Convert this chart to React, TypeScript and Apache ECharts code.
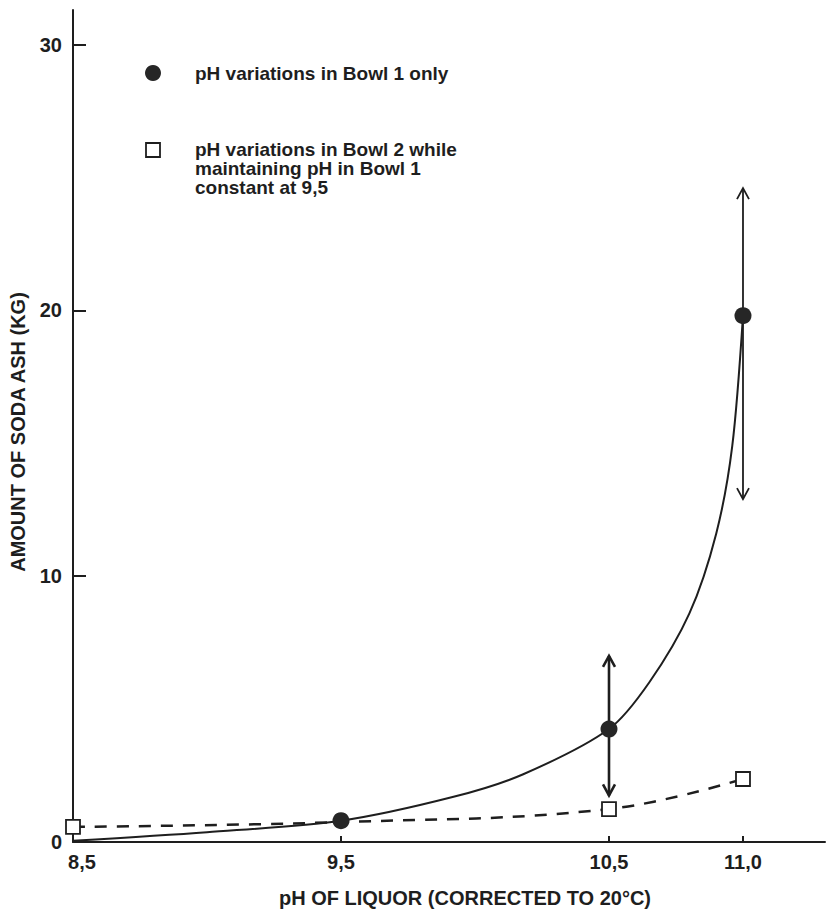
import React, { useEffect, useRef } from "react";
import * as echarts from "echarts";

// Solid curve (Bowl 1): [pH, kg]
const curvePH = [8.5, 9.0, 9.5, 9.92, 10.18, 10.5, 10.65, 10.8, 10.9, 10.96, 11.0];
const curveKg = [0.05, 0.37, 0.8, 1.7, 2.55, 4.25, 6.0, 8.6, 11.6, 14.9, 19.8];

// Filled circles: pH variations in Bowl 1 only
const bowl1PH = [9.5, 10.5, 11.0];
const bowl1Kg = [0.8, 4.25, 19.8];
// Range arrows (low / high) around the Bowl 1 points at 10,5 and 11,0
const rangePH = [10.5, 11.0];
const rangeMid = [4.25, 19.8];
const rangeLow = [1.75, 12.9];
const rangeHigh = [7.0, 24.6];
const rangeWidth = [2.6, 1.8];

// Open squares: pH variations in Bowl 2 (Bowl 1 constant at 9,5)
const bowl2PH = [8.5, 9.5, 10.5, 11.0];
const bowl2Kg = [0.57, 0.75, 1.24, 2.37];
const bowl2Shown = [true, false, true, true];

const xTicks = [8.5, 9.5, 10.5, 11.0];
const yTicks = [0, 10, 20, 30];

const INK = "#1e1e1e";
const FONT = "Liberation Sans, Arial, Helvetica, sans-serif";

export default function App() {
  const ref = useRef<HTMLDivElement>(null);
  useEffect(() => {
    if (!ref.current) return;
    const chart = echarts.init(ref.current, null, { renderer: "svg" });
    const fmtX = (v: number) => v.toFixed(1).replace(".", ",");
    chart.setOption({
      animation: false,
      backgroundColor: "#ffffff",
      grid: { left: 73, right: 10, top: 10, bottom: 72, containLabel: false },
      xAxis: {
        type: "value",
        min: 8.5,
        max: 11.306,
        axisLine: { show: true, onZero: false, lineStyle: { color: INK, width: 2 } },
        axisTick: { show: true, inside: true, length: 6, lineStyle: { color: INK, width: 2 }, customValues: xTicks },
        splitLine: { show: false },
        axisLabel: {
          customValues: xTicks,
          margin: 10,
          color: INK,
          fontSize: 20,
          fontWeight: "bold",
          fontFamily: FONT,
          formatter: (v: number) => (v === 8.5 ? "{m|" + fmtX(v) + "}" : fmtX(v)),
          rich: { m: { padding: [0, 0, 0, 18], fontSize: 20, fontWeight: "bold", fontFamily: FONT, color: INK } },
        },
      },
      yAxis: {
        type: "value",
        min: 0,
        max: 31.3,
        axisLine: { show: true, lineStyle: { color: INK, width: 2 } },
        axisTick: { show: true, inside: true, length: 13, lineStyle: { color: INK, width: 2 }, customValues: yTicks },
        splitLine: { show: false },
        axisLabel: {
          customValues: yTicks,
          margin: 11,
          color: INK,
          fontSize: 20,
          fontWeight: "bold",
          fontFamily: FONT,
        },
      },
      series: [
        {
          name: "curve",
          type: "line",
          data: curvePH.map((x, i) => [x, curveKg[i]]),
          smooth: 0.3,
          symbol: "none",
          lineStyle: { color: INK, width: 2 },
          z: 2,
        },
        {
          name: "pH variations in Bowl 2 while maintaining pH in Bowl 1 constant at 9,5",
          type: "line",
          data: bowl2PH.map((x, i) =>
            bowl2Shown[i] ? { value: [x, bowl2Kg[i]] } : { value: [x, bowl2Kg[i]], symbol: "none" }
          ),
          smooth: 0.4,
          symbol: "rect",
          symbolSize: 14,
          showAllSymbol: true,
          clip: false,
          lineStyle: { color: INK, width: 2.5, type: [12, 10] },
          itemStyle: { color: "#ffffff", borderColor: INK, borderWidth: 1.8 },
          z: 3,
        },
        {
          name: "range",
          type: "custom",
          data: rangePH.map((x, i) => [x, rangeMid[i], rangeLow[i], rangeHigh[i], rangeWidth[i]]),
          renderItem: (params: any, api: any) => {
            const x = api.value(0);
            const mid = api.coord([x, api.value(1)]);
            const lo = api.coord([x, api.value(2)]);
            const hi = api.coord([x, api.value(3)]);
            const w = api.value(4);
            const head = 11;
            const half = 6;
            const style = { stroke: INK, lineWidth: w, fill: "none" };
            return {
              type: "group",
              children: [
                { type: "line", shape: { x1: mid[0], y1: mid[1], x2: hi[0], y2: hi[1] }, style },
                { type: "line", shape: { x1: mid[0], y1: mid[1], x2: lo[0], y2: lo[1] }, style },
                {
                  type: "polyline",
                  shape: { points: [[hi[0] - half, hi[1] + head], [hi[0], hi[1]], [hi[0] + half, hi[1] + head]] },
                  style,
                },
                {
                  type: "polyline",
                  shape: { points: [[lo[0] - half, lo[1] - head], [lo[0], lo[1]], [lo[0] + half, lo[1] - head]] },
                  style,
                },
              ],
            };
          },
          z: 4,
        },
        {
          name: "pH variations in Bowl 1 only",
          type: "scatter",
          data: bowl1PH.map((x, i) => [x, bowl1Kg[i]]),
          symbol: "circle",
          symbolSize: 17,
          itemStyle: { color: "#262626", opacity: 1 },
          z: 5,
        },
      ],
      graphic: [
        {
          type: "circle",
          shape: { cx: 153, cy: 73, r: 8 },
          style: { fill: "#262626" },
        },
        {
          type: "text",
          x: 195,
          y: 73,
          style: {
            text: "pH variations in Bowl 1 only",
            font: "bold 19px " + FONT,
            fill: INK,
            verticalAlign: "middle",
          },
        },
        {
          type: "rect",
          shape: { x: 146, y: 143, width: 14, height: 14 },
          style: { fill: "#ffffff", stroke: INK, lineWidth: 1.8 },
        },
        {
          type: "text",
          x: 195,
          y: 140,
          style: {
            text: "pH variations in Bowl 2 while\nmaintaining pH in Bowl 1\nconstant at 9,5",
            font: "bold 19px " + FONT,
            lineHeight: 19,
            fill: INK,
            verticalAlign: "top",
          },
        },
        {
          type: "text",
          x: 18,
          y: 432,
          rotation: Math.PI / 2,
          style: {
            text: "AMOUNT OF SODA ASH (KG)",
            font: "bold 20px " + FONT,
            fill: INK,
            align: "center",
            verticalAlign: "middle",
          },
        },
        {
          type: "text",
          x: 465,
          y: 898,
          style: {
            text: "pH OF LIQUOR (CORRECTED TO 20°C)",
            font: "bold 20px " + FONT,
            fill: INK,
            align: "center",
            verticalAlign: "middle",
          },
        },
      ],
    });
    return () => chart.dispose();
  }, []);
  return <div ref={ref} style={{ width: 835, height: 914, position: "absolute", left: 0, top: 0 }} />;
}
